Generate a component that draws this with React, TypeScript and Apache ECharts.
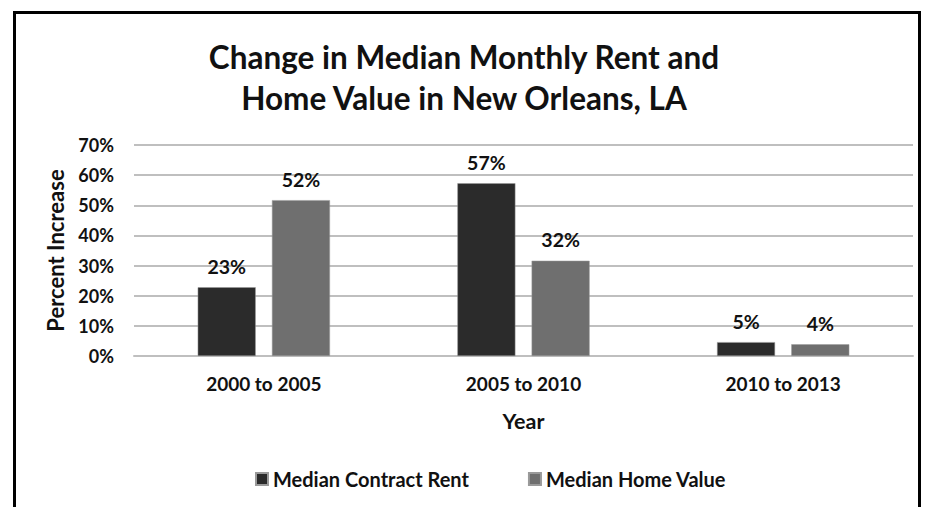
import React, { useEffect, useRef } from "react";
import * as echarts from "echarts";

const categories = ["2000 to 2005", "2005 to 2010", "2010 to 2013"];
const rentValues = [22.8, 57.3, 4.6];
const homeValues = [51.7, 31.6, 3.9];
const seriesNames = ["Median Contract Rent", "Median Home Value"];
const titleLines = ["Change in Median Monthly Rent and", "Home Value in New Orleans, LA"];

const FONT = "Lato";

export default function App() {
  const ref = useRef<HTMLDivElement>(null);
  useEffect(() => {
    const chart = echarts.init(ref.current!, null, { renderer: "svg" });
    const labelStyle = {
      show: true,
      position: "top" as const,
      distance: 11,
      fontFamily: FONT,
      fontWeight: "bold" as const,
      fontSize: 19.5,
      color: "#111",
      formatter: (p: any) => Math.round(p.value) + "%",
    };
    chart.setOption({
      animation: false,
      backgroundColor: "#fff",
      title: {
        text: titleLines.join("\n"),
        left: "center",
        top: 31,
        textStyle: {
          fontFamily: FONT,
          fontWeight: "bold",
          fontSize: 31.5,
          lineHeight: 41,
          color: "#111",
        },
      },
      legend: {
        left: 250,
        top: 464,
        itemWidth: 12,
        itemHeight: 12,
        itemGap: 59,
        icon: "rect",
        textStyle: { fontFamily: FONT, fontWeight: "bold", fontSize: 20, color: "#111" },
        data: seriesNames,
      },
      grid: { left: 134, right: 15, top: 145, bottom: 151 },
      xAxis: {
        type: "category",
        data: categories,
        name: "Year",
        nameLocation: "middle",
        nameGap: 54,
        nameTextStyle: { fontFamily: FONT, fontWeight: "bold", fontSize: 21.5, color: "#111" },
        axisLine: { show: true, lineStyle: { color: "#bfbfbf", width: 2 } },
        axisTick: { show: false },
        axisLabel: { fontFamily: FONT, fontWeight: "bold", fontSize: 19, color: "#111", margin: 18 },
      },
      yAxis: {
        type: "value",
        min: 0,
        max: 70,
        interval: 10,
        name: "Percent Increase",
        nameLocation: "middle",
        nameGap: 68,
        nameTextStyle: { fontFamily: FONT, fontWeight: "bold", fontSize: 22, color: "#111" },
        axisLine: { show: false },
        axisTick: { show: false },
        splitLine: { lineStyle: { color: "#bfbfbf", width: 2 } },
        axisLabel: {
          formatter: "{value}%",
          fontFamily: FONT,
          fontWeight: "bold",
          fontSize: 18,
          color: "#111",
          margin: 20,
        },
      },
      series: [
        {
          name: seriesNames[0],
          type: "bar",
          data: rentValues,
          barWidth: 58,
          barGap: "28%",
          itemStyle: { color: "#2b2b2b", borderColor: "#9a9a9a", borderWidth: 0.5 },
          label: labelStyle,
        },
        {
          name: seriesNames[1],
          type: "bar",
          data: homeValues,
          barWidth: 58,
          itemStyle: { color: "#6f6f6f", borderColor: "#9a9a9a", borderWidth: 0.5 },
          label: labelStyle,
        },
      ],
      graphic: [
        {
          type: "rect",
          shape: { x: 14.5, y: 12.5, width: 905, height: 520 },
          style: { fill: "none", stroke: "#000", lineWidth: 3 },
          silent: true,
        },
      ],
    });
    return () => chart.dispose();
  }, []);
  return (
    <div
      ref={ref}
      style={{ position: "fixed", left: 0, top: 0, width: 928, height: 507 }}
    />
  );
}
